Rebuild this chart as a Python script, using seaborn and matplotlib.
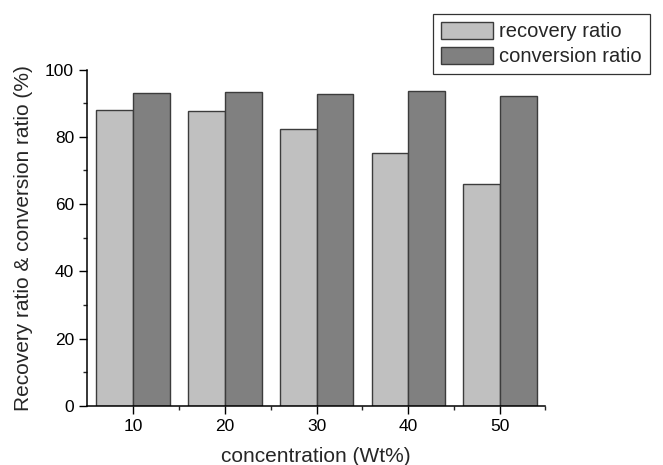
import pandas as pd
import matplotlib.pyplot as plt
import seaborn as sns
from matplotlib.ticker import AutoMinorLocator

concentration = ["10", "20", "30", "40", "50"]
recovery = [87.9, 87.6, 82.4, 75.3, 65.9]
conversion = [93.1, 93.3, 92.7, 93.7, 92.2]
series_names = ["recovery ratio", "conversion ratio"]


def main():
    df = pd.DataFrame({
        "concentration": concentration * 2,
        "value": recovery + conversion,
        "series": [series_names[0]] * 5 + [series_names[1]] * 5,
    })

    sns.set_style("ticks")
    plt.rcParams["font.family"] = ["Liberation Sans", "DejaVu Sans"]

    fig = plt.figure(figsize=(6.63, 4.65), dpi=100)
    # axes box in pixels: left 87, right 545, bottom 406, top 69.5
    ax = fig.add_axes([87.3 / 663, 1 - 406 / 465, (545 - 87.3) / 663, (406 - 69.5) / 465])

    colors = ["#c0c0c0", "#808080"]
    sns.barplot(data=df, x="concentration", y="value", hue="series",
                palette=colors, width=0.8, gap=0,
                edgecolor="#3c3c3c", linewidth=1.0, ax=ax, legend=False)

    ax.set_xlim(-0.5, 4.49)
    ax.set_ylim(0, 100)
    ax.set_yticks([0, 20, 40, 60, 80, 100])
    ax.yaxis.set_minor_locator(AutoMinorLocator(2))
    ax.set_xticks(range(5))
    ax.set_xticks([0.5, 1.5, 2.5, 3.5, 4.49], minor=True)
    ax.tick_params(axis="both", which="major", direction="out", length=5.5,
                   width=1, labelsize=12.5, colors="black", pad=4)
    ax.tick_params(axis="both", which="minor", direction="out", length=3, width=1)
    for s in ["left", "bottom"]:
        ax.spines[s].set_linewidth(1.1)
        ax.spines[s].set_color("black")
    sns.despine(ax=ax)

    ax.set_xlabel("concentration (Wt%)", fontsize=15, labelpad=9)
    ax.set_ylabel("Recovery ratio & conversion ratio (%)", fontsize=15, labelpad=9)

    handles = [plt.Rectangle((0, 0), 1, 1, facecolor=c, edgecolor="#3c3c3c", linewidth=1.0)
               for c in colors]
    leg = fig.legend(handles, series_names, loc="upper left",
                     bbox_to_anchor=(433 / 663, 1 - 14 / 465),
                     fontsize=14.5, frameon=True, fancybox=False,
                     handlelength=2.6, handleheight=0.9, handletextpad=0.3,
                     borderpad=0.4, labelspacing=0.28, borderaxespad=0)
    leg.get_frame().set_edgecolor("black")
    leg.get_frame().set_linewidth(0.9)

    fig.savefig("out.png", dpi=100)


if __name__ == "__main__":
    main()
